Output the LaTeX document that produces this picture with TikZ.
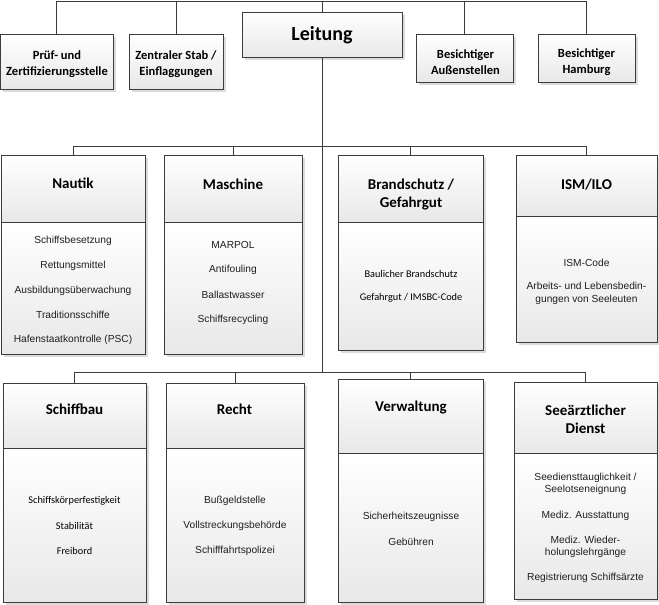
\documentclass[tikz,border=0pt]{standalone}
\usepackage{fontspec}
\setmainfont{Carlito}
\newfontfamily\arialf{Liberation Sans}
\usetikzlibrary{fit,shadows}
\definecolor{linec}{HTML}{3C3C3C}
\tikzset{
  bx/.style={draw=linec, line width=0.9pt, top color=white, bottom color=black!9,
    drop shadow={shadow xshift=2.5pt,shadow yshift=-2.5pt,fill=black!30,opacity=0.45},
    inner sep=0pt, outer sep=0pt, rectangle},
  conn/.style={draw=linec, line width=0.9pt},
  ttxt/.style={font=\bfseries\fontsize{12.5}{16}\selectfont, align=center, text=black, inner sep=0pt},
  ltxt/.style={font=\bfseries\fontsize{20}{24}\selectfont, text=black, inner sep=0pt},
  htxt/.style={font=\bfseries\fontsize{15}{18}\selectfont, align=center, text=black, inner sep=0pt},
  btxt/.style={font=\arialf\fontsize{10.2}{12.6}\selectfont, align=center, text=black!88, inner sep=0pt},
  ctxt/.style={font=\fontsize{10.3}{12.6}\selectfont, align=center, text=black, inner sep=0pt}
}
\begin{document}
\begin{tikzpicture}[x=1pt,y=-1pt]
\useasboundingbox (0,0) rectangle (659,605);
\coordinate (tb) at (0,1);
\coordinate (b2) at (0,146);
\coordinate (b3) at (0,372);

% top row
\node[bx, fit={(0.5,34) (113,89)}] (prf) {};
\node[bx, fit={(129,34) (223,89)}] (zen) {};
\node[bx, fit={(242,12) (402,57)}] (lei) {};
\node[bx, fit={(416,34) (513,82)}] (aus) {};
\node[bx, fit={(538,34) (635,82)}] (hh) {};

\node[ttxt] (prfT) at (57,64) {Prüf- und\\Zertifizierungsstelle};
\node[ttxt] (zenT) at (176,64) {Zentraler Stab /\\Einflaggungen};
\node[ltxt] (leiT) at (322,35.5) {Leitung};
\node[ttxt] (ausT) at (465.5,62.5) {Besichtiger\\Außenstellen};
\node[ttxt] (hhT) at (586.5,62.5) {Besichtiger\\Hamburg};

% second row boxes
\node[bx, fit={(1,155) (145,222)}] (nauH) {};
\node[bx, fit={(1,222) (145,354)}] (nauB) {};
\node[bx, fit={(164,155) (302,222)}] (masH) {};
\node[bx, fit={(164,222) (302,354)}] (masB) {};
\node[bx, fit={(338,155) (483,222)}] (braH) {};
\node[bx, fit={(338,222) (483,350)}] (braB) {};
\node[bx, fit={(516,155) (657,216)}] (ismH) {};
\node[bx, fit={(516,216) (657,342)}] (ismB) {};

% third row boxes
\node[bx, fit={(3,383) (146,448)}] (schH) {};
\node[bx, fit={(3,448) (146,602)}] (schB) {};
\node[bx, fit={(166,383) (304,448)}] (recH) {};
\node[bx, fit={(166,448) (304,602)}] (recB) {};
\node[bx, fit={(338,379) (483,453)}] (verH) {};
\node[bx, fit={(338,453) (483,602)}] (verB) {};
\node[bx, fit={(514,382) (657,453)}] (seeH) {};
\node[bx, fit={(514,453) (657,599)}] (seeB) {};

% connectors
\draw[conn] (prf.north) |- (hh.north |- tb) -- (hh.north);
\draw[conn] (zen.north) -- (zen.north |- tb);
\draw[conn] (lei.north) -- (lei.north |- tb);
\draw[conn] (aus.north) -- (aus.north |- tb);
\draw[conn] (lei.south) -- (lei.south |- b3);
\draw[conn] (nauH.north) |- (ismH.north |- b2) -- (ismH.north);
\draw[conn] (masH.north) -- (masH.north |- b2);
\draw[conn] (braH.north) -- (braH.north |- b2);
\draw[conn] (schH.north) |- (seeH.north |- b3) -- (seeH.north);
\draw[conn] (recH.north) -- (recH.north |- b3);
\draw[conn] (verH.north) -- (verH.north |- b3);

% headers
\node[htxt] (nauT) at (73,183.5) {Nautik};
\node[htxt] (masT) at (233,184.3) {Maschine};
\node[htxt] (braT) at (411,194.5) {Brandschutz /\\Gefahrgut};
\node[htxt] (ismT) at (586.5,185) {ISM/ILO};
\node[htxt] (schT) at (74.5,409.3) {Schiffbau};
\node[htxt] (recT) at (234.5,409.3) {Recht};
\node[htxt] (verT) at (411,408) {Verwaltung};
\node[htxt] (seeT) at (585.5,419.5) {Seeärztlicher\\Dienst};

% Nautik body
\node[btxt] (nau1) at (73,240.5) {Schiffsbesetzung};
\node[btxt] (nau2) at (73,265.5) {Rettungsmittel};
\node[btxt] (nau3) at (73,290.5) {Ausbildungsüberwachung};
\node[btxt] (nau4) at (73,314.5) {Traditionsschiffe};
\node[btxt] (nau5) at (73,339.5) {Hafenstaatkontrolle (PSC)};
% Maschine body
\node[btxt] (mas1) at (233,244.5) {MARPOL};
\node[btxt] (mas2) at (233,269.5) {Antifouling};
\node[btxt] (mas3) at (233,295) {Ballastwasser};
\node[btxt] (mas4) at (233,320) {Schiffsrecycling};
% Brandschutz body
\node[ctxt] (bra1) at (411,273.5) {Baulicher Brandschutz};
\node[ctxt] (bra2) at (411,297.5) {Gefahrgut / IMSBC-Code};
% ISM body
\node[btxt] (ism1) at (586.5,263) {ISM-Code};
\node[btxt] (ism2) at (586.5,293.5) {Arbeits- und Lebensbedin-\\gungen von Seeleuten};
% Schiffbau body
\node[ctxt] (sch1) at (74.5,501) {Schiffskörperfestigkeit};
\node[ctxt] (sch2) at (74.5,526) {Stabilität};
\node[ctxt] (sch3) at (74.5,551) {Freibord};
% Recht body
\node[btxt] (rec1) at (235,501) {Bußgeldstelle};
\node[btxt] (rec2) at (235,526) {Vollstreckungsbehörde};
\node[btxt] (rec3) at (235,551) {Schifffahrtspolizei};
% Verwaltung body
\node[btxt] (ver1) at (411,517) {Sicherheitszeugnisse};
\node[btxt] (ver2) at (411,542) {Gebühren};
% Seeaerztlicher body
\node[btxt] (see1) at (585.5,484) {Seediensttauglichkeit /\\Seelotseneignung};
\node[btxt] (see2) at (585.5,515.5) {Mediz. Ausstattung};
\node[btxt] (see3) at (585.5,547) {Mediz. Wieder-\\holungslehrgänge};
\node[btxt] (see4) at (585.5,577.5) {Registrierung Schiffsärzte};
\end{tikzpicture}
\end{document}
